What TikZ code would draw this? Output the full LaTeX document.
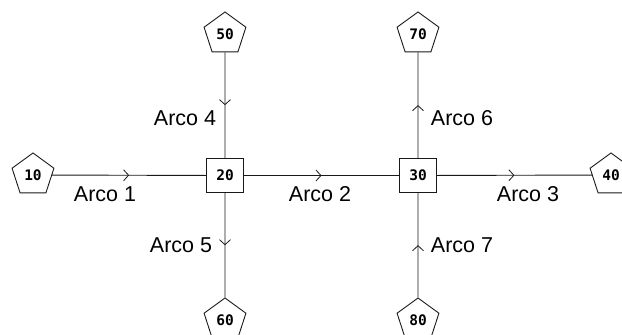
\documentclass[tikz,border=0pt]{standalone}
\usepackage{fontspec}
\setmainfont{Liberation Sans}
\newfontfamily\monob{DejaVu Sans Mono}
\usetikzlibrary{shapes.geometric,arrows.meta,decorations.markings}
\begin{document}
\begin{tikzpicture}[x=1pt,y=-1pt,
  pent/.style={draw=black!90,line width=0.9pt,regular polygon,regular polygon sides=5,minimum size=44pt,inner sep=0pt,font=\monob\bfseries\fontsize{14.5}{14.5}\selectfont},
  sq/.style={draw=black!90,line width=0.9pt,rectangle,minimum width=37pt,minimum height=34pt,inner sep=0pt,font=\monob\bfseries\fontsize{14.5}{14.5}\selectfont},
  arc/.style={draw=black!90,line width=0.9pt,postaction={decorate},decoration={markings,mark=at position 0.5 with {\arrow{Straight Barb[length=5pt,width=11pt,line width=0.8pt]}}}},
  lbl/.style={font=\fontsize{21.5}{21.5}\selectfont,inner sep=0pt}]
\useasboundingbox (0,0) rectangle (622,335);
\node[pent] (p10) at (33,175) {10};
\node[pent] (p40) at (611,175) {40};
\node[pent] (p50) at (225,34) {50};
\node[pent] (p60) at (225,320) {60};
\node[pent] (p70) at (418,34) {70};
\node[pent] (p80) at (418,320) {80};
\node[sq] (b20) at (225,175.5) {20};
\node[sq] (b30) at (418,175.5) {30};
\draw[arc] (p10) -- (b20);
\draw[arc] (b20) -- (b30);
\draw[arc] (b30) -- (p40);
\draw[arc] (p50) -- (b20);
\draw[arc] (b20) -- (p60);
\draw[arc] (b30) -- (p70);
\draw[arc] (p80) -- (b30);
\node[lbl] (l1) at (105,194) {Arco 1};
\node[lbl] (l2) at (320,194) {Arco 2};
\node[lbl] (l3) at (528,194) {Arco 3};
\node[lbl] (l4) at (185,118) {Arco 4};
\node[lbl] (l5) at (181,245) {Arco 5};
\node[lbl] (l6) at (462,118) {Arco 6};
\node[lbl] (l7) at (462,245) {Arco 7};
\end{tikzpicture}
\end{document}
